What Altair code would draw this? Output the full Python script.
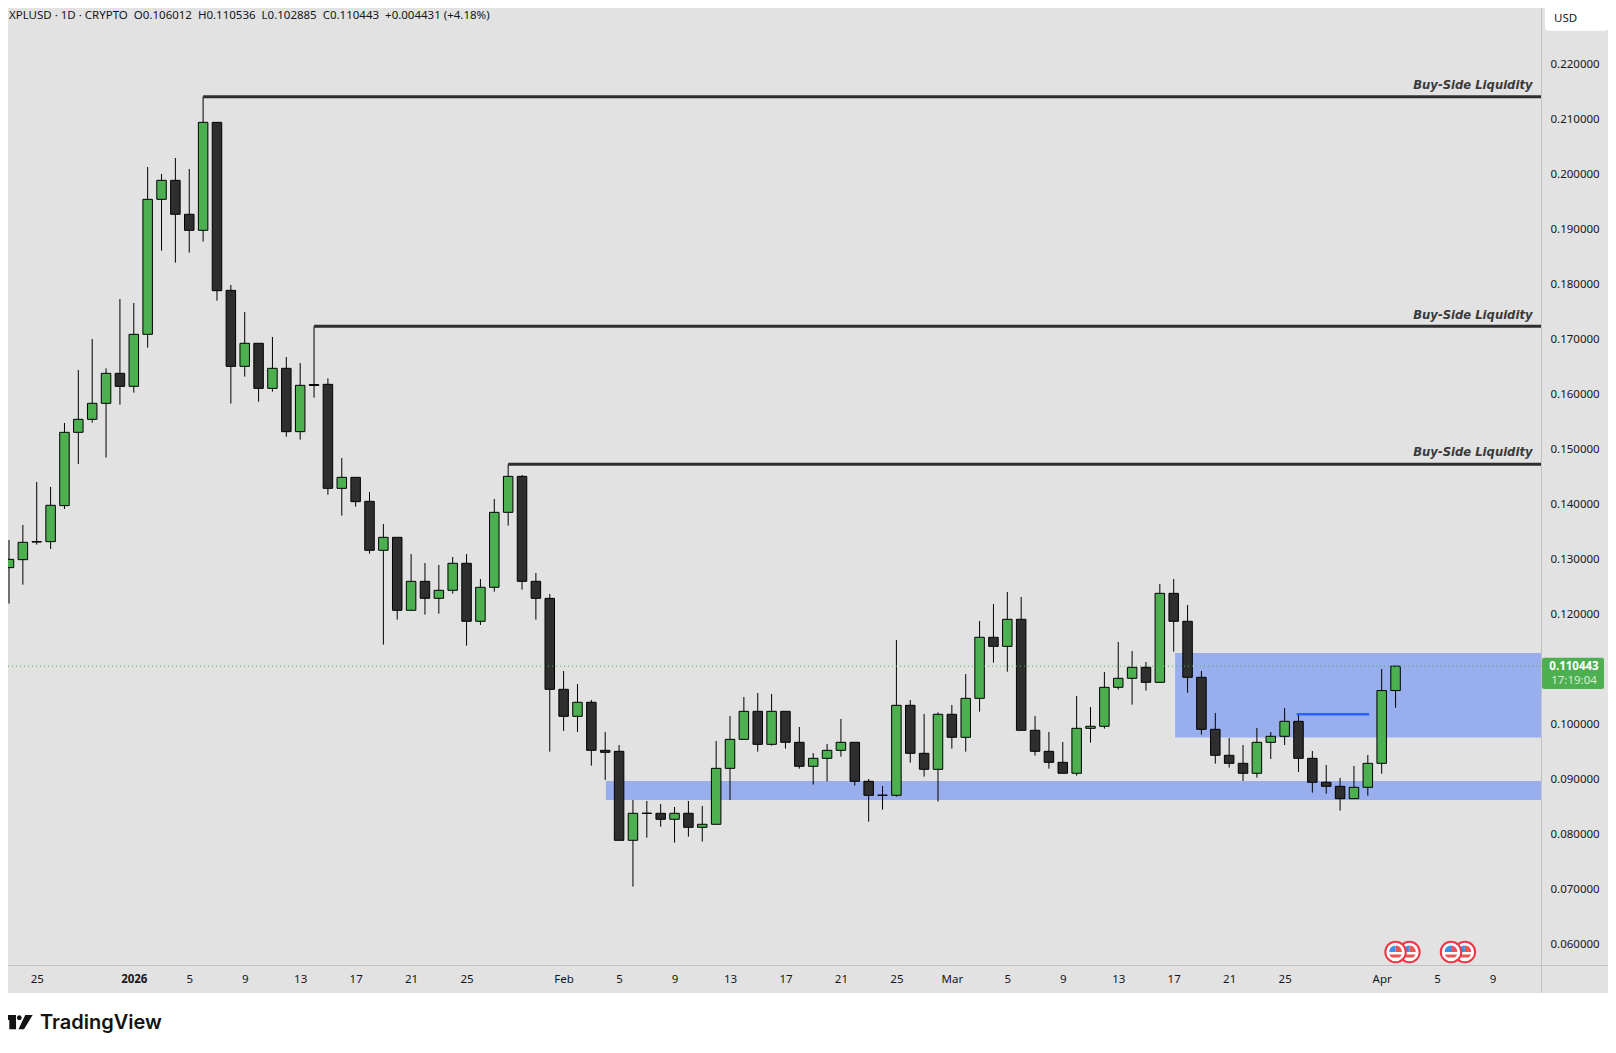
import altair as alt
import pandas as pd

GREY = "#e2e2e2"
GREEN = "#4caf50"
DARK = "#2e2e2e"
ZONE = "#99aeed"
AXIS_FONT = "Noto Sans"

opens = [.12835,.12980,.13300,.13307,.13962,.15294,.15530,.15821,.16366,.16130,
         .17075,.19528,.19873,.19256,.18965,.20927,.17874,.16493,.16912,.16093,
         .16457,.15306,.16163,.16166,.14276,.14476,.14040,.13150,.13386,.12060,
         .12586,.12278,.12423,.12914,.11860,.12478,.13840,.14494,.12586,.12277,
         .10624,.10133,.10388,.09515,.09497,.07880,.08368,.08371,.08262,.08371,
         .08116,.08171,.09188,.09715,.10224,.09624,.10224,.09661,.09225,.09370,
         .09515,.09661,.08952,.08698,.08698,.10333,.09461,.09170,.10170,.09752,
         .10460,.11569,.11405,.11896,.09879,.09497,.09297,.09098,.09915,.09952,
         .10660,.10824,.11024,.10751,.12368,.11860,.10842,.09897,.09425,.09279,
         .09098,.09661,.09770,.10042,.09370,.08934,.08861,.08637,.08843,.09279,
         .106012]
highs = [.13338,.13610,.14392,.14301,.15464,.16427,.16990,.16457,.17717,.17644,
         .20116,.19988,.20279,.20079,.21394,.20927,.17971,.17481,.16912,.17027,
         .16663,.16554,.17220,.16275,.14828,.14476,.14210,.13628,.13386,.13083,
         .12920,.12883,.13029,.13083,.12629,.14083,.14713,.14519,.12738,.12356,
         .10957,.10721,.10430,.09849,.09612,.08613,.08595,.08540,.08486,.08595,
         .08504,.09685,.10139,.10485,.10557,.10539,.10224,.09939,.09467,.09630,
         .10085,.09661,.08994,.08867,.11520,.10430,.10176,.10206,.10339,.10902,
         .11866,.12174,.12393,.12302,.10139,.09849,.09667,.10503,.10303,.10939,
         .11484,.11320,.11121,.12538,.12629,.12156,.10957,.10194,.09740,.09612,
         .09921,.09849,.10285,.10176,.09503,.09249,.09013,.09231,.09431,.10993,
         .110536]
lows = [.12181,.12526,.13253,.13174,.13901,.14719,.15470,.14834,.15797,.16015,
        .16833,.18595,.18377,.18559,.18759,.17687,.15815,.16306,.15851,.16033,
        .15215,.15161,.15924,.14161,.13780,.13943,.13089,.11436,.11890,.12060,
        .11981,.11999,.12362,.11418,.11793,.12399,.13598,.12435,.11890,.09491,
        .09867,.09849,.09237,.08976,.07880,.07038,.07929,.08128,.07838,.07947,
        .07856,.08171,.08613,.09715,.09491,.09600,.09546,.09182,.08892,.08951,
        .09400,.08874,.08219,.08437,.08674,.09291,.09037,.08583,.09546,.09491,
        .10218,.11108,.10945,.09879,.09418,.09182,.09098,.09055,.09655,.09909,
        .10618,.10345,.10600,.10751,.11308,.10563,.09800,.09273,.09201,.08958,
        .09019,.09358,.09612,.09122,.08746,.08728,.08419,.08637,.08692,.09091,
        .102885]
closes = [.12986,.13295,.13307,.13968,.15294,.15530,.15821,.16366,.16130,.17075,
          .19528,.19873,.19256,.18965,.20927,.17868,.16493,.16912,.16093,.16457,
          .15306,.16148,.16145,.14276,.14476,.14034,.13150,.13386,.12060,.12586,
          .12278,.12423,.12914,.11860,.12478,.13840,.14494,.12586,.12278,.10624,
          .10133,.10388,.09515,.09479,.07880,.08371,.08374,.08262,.08371,.08116,
          .08171,.09188,.09715,.10224,.09624,.10224,.09661,.09225,.09370,.09515,
          .09661,.08952,.08698,.08700,.10333,.09461,.09170,.10170,.09752,.10460,
          .11569,.11405,.11896,.09879,.09497,.09297,.09098,.09915,.09952,.10660,
          .10824,.11024,.10751,.12368,.11860,.10842,.09897,.09425,.09279,.09098,
          .09661,.09770,.10042,.09370,.08934,.08861,.08637,.08843,.09279,.10601,
          .110443]

tick_days = [2, 9, 13, 17, 21, 25, 29, 33, 40, 44, 48, 52, 56, 60, 64, 68, 72, 76, 80, 84, 88, 92, 99, 103, 107]
tick_labels = ["25", "2026", "5", "9", "13", "17", "21", "25", "Feb", "5", "9", "13", "17", "21", "25",
               "Mar", "5", "9", "13", "17", "21", "25", "Apr", "5", "9"]
price_ticks = [.06, .07, .08, .09, .10, .12, .13, .14, .15, .16, .17, .18, .19, .20, .21, .22]

DAY_MIN, DAY_MAX = -0.0721, 110.49
PRICE_MIN, PRICE_MAX = 0.05614, 0.23005

liq_start = [14, 22, 36]
liq_price = [.21394, .17220, .14713]
zone_start = [43.05, 84.1]
zone_low = [.08613, .09746]
zone_high = [.08958, .11284]
last_price = 0.110443
bos_start, bos_end, bos_price = 92.87, 98.09, 0.10170
event_days = [101, 100, 105, 104]
event_price = 0.05851

HEADER = "XPLUSD \u00b7 1D \u00b7 CRYPTO\u00a0\u00a0O0.106012\u00a0\u00a0H0.110536\u00a0\u00a0L0.102885\u00a0\u00a0C0.110443\u00a0\u00a0+0.004431 (+4.18%)"

candles = pd.DataFrame({"day": list(range(len(opens))), "open": opens, "high": highs, "low": lows, "close": closes})
candles["dir"] = ["up" if c >= o else "down" for o, c in zip(opens, closes)]

x_scale = alt.Scale(domain=[DAY_MIN, DAY_MAX], nice=False, zero=False, padding=0)
y_scale = alt.Scale(domain=[PRICE_MIN, PRICE_MAX], nice=False, zero=False)
x_axis = alt.Axis(
    values=tick_days, title=None, ticks=False, domain=False, grid=False, labelPadding=14,
    labelBaseline="middle", labelFont=AXIS_FONT, labelFontSize=11.5, labelColor="#131722",
    labelFontWeight=alt.condition("datum.value == 9", alt.value("bold"), alt.value("normal")),
    labelFlush=False, labelOverlap=False,
    labelExpr="{" + ",".join(f"'{d}':'{t}'" for d, t in zip(tick_days, tick_labels)) + "}[datum.value]")
y_axis = alt.Axis(
    values=price_ticks, orient="right", format=".6f", title=None, ticks=False, domain=False, grid=False,
    labelPadding=9, labelBaseline="middle", labelFont=AXIS_FONT, labelFontSize=11.5, labelColor="#131722",
    labelFlush=False, labelOverlap=False, labelOffset=0.7)
px = lambda f: alt.X(f, type="quantitative", scale=x_scale, axis=x_axis)
py = lambda f: alt.Y(f, type="quantitative", scale=y_scale, axis=y_axis)


def box(x, x2, y, y2, color, **kw):
    return alt.Chart(pd.DataFrame({"a": [0]})).mark_rect(color=color, **kw).encode(
        x=alt.value(x), x2=alt.value(x2), y=alt.value(y), y2=alt.value(y2))


def vline(x, y, y2, color="#c2c2c2"):
    return alt.Chart(pd.DataFrame({"a": [0]})).mark_rule(color=color, strokeWidth=1).encode(
        x=alt.value(x), y=alt.value(y), y2=alt.value(y2))


def hline(x, x2, y, color="#c2c2c2"):
    return alt.Chart(pd.DataFrame({"a": [0]})).mark_rule(color=color, strokeWidth=1).encode(
        x=alt.value(x), x2=alt.value(x2), y=alt.value(y))


def label(text, x, y, align="left", **kw):
    return alt.Chart(pd.DataFrame({"t": [text]})).mark_text(baseline="middle", align=align, **kw).encode(
        x=alt.value(x), y=alt.value(y), text="t:N")


white_foot = box(0, 1600, 985, 1032, "white")
sep_v = vline(1533.5, 0, 985)
sep_h = hline(0, 1600, 957.5)

zones = alt.Chart(pd.DataFrame({"s": zone_start, "e": [DAY_MAX] * 2, "lo": zone_low, "hi": zone_high})).mark_rect(color=ZONE).encode(
    x=px("s"), x2="e:Q", y=py("lo"), y2="hi:Q")

wicks = alt.Chart(candles).mark_rule(color="black", strokeWidth=1).encode(
    x=px("day"), y=py("low"), y2="high:Q")

bodies = alt.Chart(candles).mark_bar(width=9.5, stroke="black", strokeWidth=1, orient="vertical").encode(
    x=px("day"), y=py("open"), y2="close:Q",
    color=alt.Color("dir:N", scale=alt.Scale(domain=["up", "down"], range=[GREEN, DARK]), legend=None))

liq = alt.Chart(pd.DataFrame({"s": liq_start, "e": [DAY_MAX] * 3, "p": liq_price, "t": ["Buy-Side Liquidity"] * 3}))
liq_lines = liq.mark_rule(color=DARK, strokeWidth=3).encode(x=px("s"), x2="e:Q", y=py("p"))
liq_text = liq.mark_text(align="right", baseline="middle", font="DejaVu Sans", fontSize=11.6, fontWeight="bold",
                         fontStyle="italic", color="#3a3a3a", dy=-10.8, dx=-8.5).encode(
    x=alt.value(1533), y=py("p"), text="t:N")

price_line = alt.Chart(pd.DataFrame({"p": [last_price], "a": [DAY_MIN], "b": [DAY_MAX]})).mark_rule(
    color=GREEN, strokeWidth=1, strokeDash=[1, 3]).encode(x=px("a"), x2="b:Q", y=py("p"))

bos = alt.Chart(pd.DataFrame({"s": [bos_start], "e": [bos_end], "p": [bos_price]})).mark_rule(
    color="#2962ff", strokeWidth=2.5).encode(x=px("s"), x2="e:Q", y=py("p"))

P_RED = "M0,-0.62 A0.62,0.62 0 0 1 0.62,0 L0,0 Z M-0.6,0.25 L0.6,0.25 A0.62,0.62 0 0 1 0.35,0.55 L-0.35,0.55 A0.62,0.62 0 0 1 -0.6,0.25 Z"
P_BLUE = "M0,0 L-0.62,0 A0.62,0.62 0 0 1 0,-0.62 Z"
P_LOGO = ("M-0.98,-0.47 L-0.13,-0.47 L-0.13,0.49 L-0.58,0.49 L-0.58,-0.13 L-0.98,-0.13 Z "
          "M-0.068,-0.287 A0.155,0.155 0 1 1 0.242,-0.287 A0.155,0.155 0 1 1 -0.068,-0.287 Z "
          "M0.487,-0.47 L0.98,-0.47 L0.4,0.49 L0.03,0.49 Z")

flags = []
for d in event_days:
    e = alt.Chart(pd.DataFrame({"d": [d], "p": [event_price]}))
    enc = dict(x=px("d"), y=py("p"))
    flags.append(e.mark_point(shape="circle", filled=True, fill="white", stroke="#f23645", strokeWidth=2, size=420, opacity=1).encode(**enc))
    flags.append(e.mark_point(shape=P_RED, filled=True, fill="#ef5350", stroke=None, size=420, opacity=1).encode(**enc))
    flags.append(e.mark_point(shape=P_BLUE, filled=True, fill="#3f8ee8", stroke=None, size=420, opacity=1).encode(**enc))

logo_icon = alt.Chart(pd.DataFrame({"a": [0]})).mark_point(shape=P_LOGO, filled=True, fill="#131313", size=900, opacity=1).encode(
    x=alt.value(10), y=alt.value(1014))

chart = alt.layer(
    zones, wicks, bodies, liq_lines, liq_text, bos, price_line,
    *flags,
    sep_v, sep_h, white_foot,
    box(1537, 1600, -3, 22.7, "white", cornerRadius=3),
    label("USD", 1546, 11.2, font=AXIS_FONT, fontSize=11.5, color="#131722"),
    box(1534, 1596, 649.7, 681, GREEN, cornerRadius=2),
    label("0.110443", 1566, 659.4, align="center", font=AXIS_FONT, fontSize=11.5, fontWeight="bold", color="white"),
    label("17:19:04", 1566, 673.4, align="center", font=AXIS_FONT, fontSize=11.5, color="#d8eed9"),
    label(HEADER, 1, 8.4, font=AXIS_FONT, fontSize=11.5, color="#131722"),
    logo_icon,
    label("TradingView", 32, 1015, font="Inter", fontSize=20, fontWeight=600, color="#131313"),
).resolve_scale(x="shared", y="shared").properties(
    width=1533, height=957,
    padding={"left": 0, "top": 0, "right": 67, "bottom": 75},
    autosize=alt.AutoSizeParams(type="none"),
    background=GREY,
).configure_view(stroke=None)

chart.save("out.html", embed_options={"renderer": "svg", "actions": False})
